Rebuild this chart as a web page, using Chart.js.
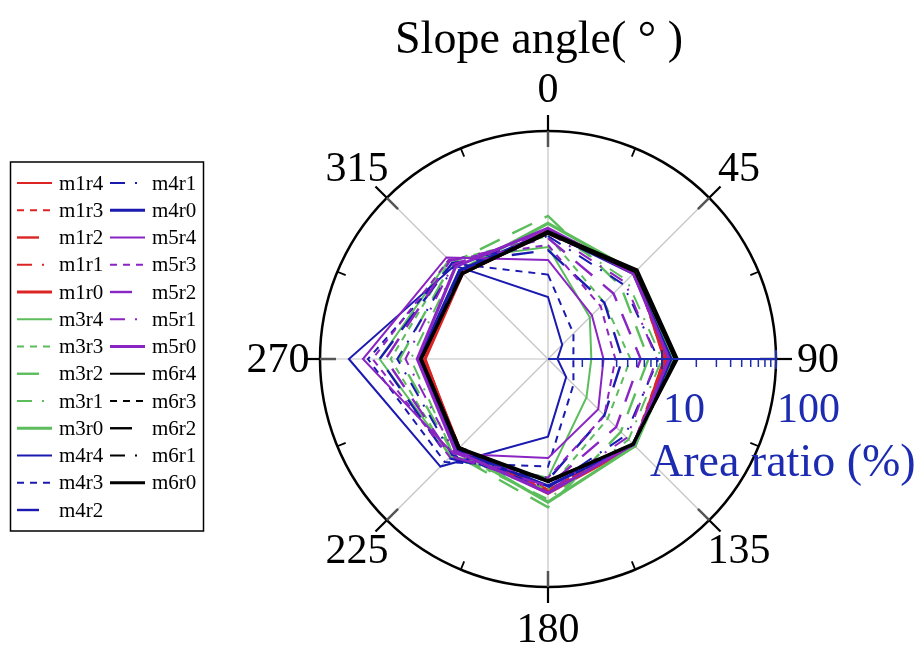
<!DOCTYPE html>
<html>
<head>
<meta charset="utf-8">
<title>Slope angle</title>
<script src="https://cdn.jsdelivr.net/npm/chart.js@4.4.1/dist/chart.umd.min.js"></script>
<style>
  html, body { margin: 0; padding: 0; background: #fff; }
  #wrap { width: 922px; height: 657px; position: relative; }
</style>
</head>
<body>
<div id="wrap"><canvas id="slopeChart"></canvas></div>
<script>
// slope directions (degrees)
const angleLabels = ['0', '45', '90', '135', '180', '225', '270', '315'];

const seriesNames = [
  'm1r4', 'm1r3', 'm1r2', 'm1r1', 'm1r0',
  'm3r4', 'm3r3', 'm3r2', 'm3r1', 'm3r0',
  'm4r4', 'm4r3', 'm4r2', 'm4r1', 'm4r0',
  'm5r4', 'm5r3', 'm5r2', 'm5r1', 'm5r0',
  'm6r4', 'm6r3', 'm6r2', 'm6r1', 'm6r0'
];

// area ratio (%) per direction, 0..315
const m1r4 = [13.5, 12.5, 11.0, 12.0, 14.5, 12.5, 12.0, 12.0];
const m1r3 = [13.0, 12.0, 10.5, 11.5, 14.0, 12.5, 12.5, 11.5];
const m1r2 = [13.0, 12.5, 11.0, 12.0, 14.5, 13.0, 12.0, 12.0];
const m1r1 = [12.5, 12.0, 10.8, 11.5, 14.0, 12.5, 12.5, 11.8];
const m1r0 = [13.0, 12.5, 10.5, 12.0, 15.0, 13.0, 12.0, 11.5];

const m3r4 = [9.6, 3.3, 2.4, 3.0, 11.0, 16.0, 30.0, 17.0];
const m3r3 = [12.0, 5.0, 5.3, 5.5, 14.0, 16.5, 24.0, 16.5];
const m3r2 = [18.0, 8.0, 7.6, 8.0, 20.0, 15.0, 20.0, 15.5];
const m3r1 = [14.0, 9.5, 10.0, 10.0, 17.0, 15.0, 16.0, 14.0];
const m3r0 = [15.5, 12.0, 12.5, 12.0, 18.0, 13.5, 13.5, 12.5];

const m4r4 = [3.5, 1.5, 1.21, 1.68, 4.8, 21.6, 55.8, 14.4];
const m4r3 = [5.5, 2.07, 1.67, 2.07, 8.8, 19.0, 38.0, 15.3];
const m4r2 = [9.0, 5.0, 4.5, 5.0, 11.5, 17.0, 30.0, 15.5];
const m4r1 = [12.0, 8.5, 9.3, 9.0, 13.5, 15.5, 21.0, 14.5];
const m4r0 = [13.0, 11.5, 12.0, 11.5, 13.0, 13.5, 13.5, 12.5];

const m5r4 = [7.4, 3.5, 3.07, 4.2, 7.4, 15.0, 42.0, 18.2];
const m5r3 = [10.0, 4.5, 3.9, 5.0, 11.0, 16.5, 34.6, 17.0];
const m5r2 = [11.5, 6.5, 6.5, 7.0, 13.0, 16.0, 26.6, 16.5];
const m5r1 = [13.0, 9.0, 9.0, 9.5, 14.5, 14.5, 17.8, 15.0];
const m5r0 = [14.0, 11.5, 11.5, 11.5, 15.0, 14.0, 14.0, 14.0];

const m6r4 = [12.5, 12.0, 13.0, 11.5, 11.5, 12.5, 12.8, 11.5];
const m6r3 = [13.0, 12.5, 13.5, 11.5, 12.0, 13.0, 13.0, 11.5];
const m6r2 = [13.0, 12.5, 13.0, 11.5, 12.0, 12.5, 13.0, 11.8];
const m6r1 = [12.8, 12.3, 13.5, 11.3, 11.8, 12.8, 13.0, 11.5];
const m6r0 = [13.1, 12.7, 13.6, 11.3, 11.9, 12.9, 13.1, 11.5];

// log axis ticks for the area ratio
const ratioTicks = [10, 100];
const ratioTickLabels = ['10', '100'];
const ratioMinorTicks = [2, 3, 4, 5, 6, 7, 8, 9, 20, 30, 40, 50, 60, 70, 80, 90];

const seriesValues = {
  m1r4, m1r3, m1r2, m1r1, m1r0,
  m3r4, m3r3, m3r2, m3r1, m3r0,
  m4r4, m4r3, m4r2, m4r1, m4r0,
  m5r4, m5r3, m5r2, m5r1, m5r0,
  m6r4, m6r3, m6r2, m6r1, m6r0
};

const familyColor = {
  m1: '#dc2424',
  m3: '#5cbd5c',
  m4: '#1a1ab0',
  m5: '#8a24c2',
  m6: '#000000'
};

const lineStyle = {
  r4: { dash: [], width: 2 },
  r3: { dash: [7, 6], width: 2 },
  r2: { dash: [22, 14], width: 2.4 },
  r1: { dash: [15, 10, 2, 10], width: 2 },
  r0: { dash: [], width: 3.2 }
};

const serif = '"Liberation Serif", "Times New Roman", serif';
const axisBlue = '#1c2bb0';

// radar scale is linear, so the ratios go in as log10 values (1 % at the centre, 100 % at the rim)
const datasets = seriesNames.map((name, i) => {
  const style = lineStyle[name.slice(2)];
  return {
    label: name,
    data: seriesValues[name].map(v => Math.log10(v)),
    borderColor: familyColor[name.slice(0, 2)],
    backgroundColor: 'transparent',
    borderDash: style.dash,
    borderWidth: style.width,
    pointRadius: 0,
    pointHoverRadius: 0,
    fill: false,
    tension: 0,
    order: seriesNames.length - 1 - i
  };
});

const polarDecor = {
  id: 'polarDecor',
  afterDraw(chart) {
    const ctx = chart.ctx;
    const scale = chart.scales.r;
    const R = scale.drawingArea;
    const n = angleLabels.length;
    ctx.save();
    ctx.setLineDash([]);
    ctx.lineCap = 'butt';

    // rim ticks and direction labels
    angleLabels.forEach((lab, i) => {
      const a = scale.getPointPosition(i, R - 16);
      const b = scale.getPointPosition(i, R);
      const c = scale.getPointPosition(i, R + 16);
      ctx.strokeStyle = '#555';
      ctx.lineWidth = 2.5;
      ctx.beginPath(); ctx.moveTo(a.x, a.y); ctx.lineTo(b.x, b.y); ctx.stroke();
      ctx.strokeStyle = '#000';
      ctx.lineWidth = 2.2;
      ctx.beginPath(); ctx.moveTo(b.x, b.y); ctx.lineTo(c.x, c.y); ctx.stroke();

      const m1 = scale.getPointPosition(i, R - 9, Math.PI / n);
      const m2 = scale.getPointPosition(i, R, Math.PI / n);
      ctx.lineWidth = 1.8;
      ctx.beginPath(); ctx.moveTo(m1.x, m1.y); ctx.lineTo(m2.x, m2.y); ctx.stroke();

      const p = scale.getPointPosition(i, R + 42);
      ctx.fillStyle = '#000';
      ctx.font = '42px ' + serif;
      ctx.textAlign = 'center';
      ctx.textBaseline = 'middle';
      ctx.fillText(lab, p.x, p.y + 2);
    });

    // blue log axis along the 90 direction
    const axisIdx = angleLabels.indexOf('90');
    const o = scale.getPointPosition(axisIdx, 0);
    const e = scale.getPointPosition(axisIdx, R);
    ctx.strokeStyle = axisBlue;
    ctx.lineWidth = 2.2;
    ctx.beginPath(); ctx.moveTo(o.x, o.y); ctx.lineTo(e.x, e.y); ctx.stroke();
    ctx.lineWidth = 1.5;
    ratioMinorTicks.forEach(v => {
      const t = scale.getPointPosition(axisIdx, scale.getDistanceFromCenterForValue(Math.log10(v)));
      ctx.beginPath(); ctx.moveTo(t.x, t.y); ctx.lineTo(t.x, t.y + 8); ctx.stroke();
    });
    ctx.lineWidth = 2;
    ctx.fillStyle = axisBlue;
    ctx.font = '42px ' + serif;
    ctx.textAlign = 'left';
    ctx.textBaseline = 'alphabetic';
    ratioTicks.forEach((v, k) => {
      const t = scale.getPointPosition(axisIdx, scale.getDistanceFromCenterForValue(Math.log10(v)));
      ctx.beginPath(); ctx.moveTo(t.x, t.y - 9); ctx.lineTo(t.x, t.y + 10); ctx.stroke();
      ctx.fillText(ratioTickLabels[k], t.x + 1, t.y + 63);
    });
    ctx.font = '46px ' + serif;
    ctx.fillText('Area ratio (%)', o.x + 102, o.y + 117);

    // title
    ctx.fillStyle = '#000';
    ctx.font = '46px ' + serif;
    ctx.textAlign = 'center';
    ctx.fillText('Slope angle( \u00B0 )', scale.xCenter - 9, 53);
    ctx.restore();
  }
};

const boxLegend = {
  id: 'boxLegend',
  afterDraw(chart) {
    const ctx = chart.ctx;
    const perCol = 13;
    const rowH = 27.25;
    const top = 183;
    const colX = [17, 110];
    ctx.save();
    ctx.strokeStyle = '#000';
    ctx.lineWidth = 1.5;
    ctx.setLineDash([]);
    ctx.strokeRect(10.5, top - 21, 193, (perCol - 1) * rowH + 42);
    ctx.font = '21px ' + serif;
    ctx.textAlign = 'left';
    ctx.textBaseline = 'middle';
    chart.data.datasets.forEach((ds, i) => {
      const x = colX[Math.floor(i / perCol)];
      const y = top + (i % perCol) * rowH;
      ctx.strokeStyle = ds.borderColor;
      ctx.lineWidth = Math.max(ds.borderWidth, 2.2);
      ctx.setLineDash(ds.borderDash);
      ctx.beginPath(); ctx.moveTo(x, y); ctx.lineTo(x + 35, y); ctx.stroke();
      ctx.setLineDash([]);
      ctx.fillStyle = '#000';
      ctx.fillText(ds.label, x + 42, y + 1);
    });
    ctx.restore();
  }
};

new Chart(document.getElementById('slopeChart'), {
  type: 'radar',
  data: { labels: angleLabels, datasets: datasets },
  options: {
    responsive: true,
    maintainAspectRatio: false,
    animation: false,
    layout: { padding: { left: 320, right: 146, top: 131, bottom: 70 } },
    plugins: {
      legend: { display: false },
      tooltip: { enabled: false }
    },
    scales: {
      r: {
        min: 0,
        max: 2,
        ticks: { display: false, stepSize: 1 },
        pointLabels: { display: false },
        grid: {
          circular: true,
          color: ctx => (ctx.tick && ctx.tick.value === 2 ? '#000' : 'rgba(0,0,0,0)'),
          lineWidth: 2.5
        },
        angleLines: { color: '#c4c4c4', lineWidth: 1.2 }
      }
    }
  },
  plugins: [polarDecor, boxLegend]
});
</script>
</body>
</html>
